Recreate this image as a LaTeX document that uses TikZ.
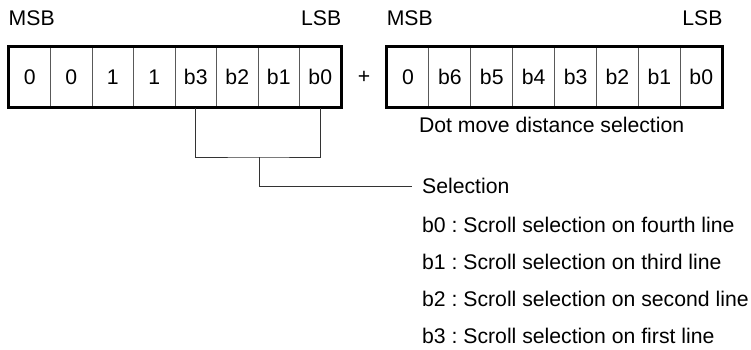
\documentclass[tikz,border=0pt]{standalone}
\usepackage{fontspec}
\setmainfont{Liberation Sans}
\usetikzlibrary{positioning,calc}
\frenchspacing

\begin{document}
\begin{tikzpicture}[x=1pt,y=-1pt,node distance=41.5pt,
  font=\fontsize{21.2}{25}\selectfont,
  cell/.style={draw=black!65,line width=0.9pt,minimum width=41.5pt,minimum height=60.3pt,inner sep=0pt},
  frame/.style={draw=black,line width=2.4pt},
  wire/.style={draw=black!80,line width=1pt},
  lbl/.style={inner sep=0pt},
  note/.style={inner xsep=10pt}]
\useasboundingbox (0,0) rectangle (751,349);

% first register
\node[cell] (r1c1) at (29.75,77) {0};
\node[cell] (r1c2) [right of=r1c1] {0};
\node[cell] (r1c3) [right of=r1c2] {1};
\node[cell] (r1c4) [right of=r1c3] {1};
\node[cell] (r1c5) [right of=r1c4] {b3};
\node[cell] (r1c6) [right of=r1c5] {b2};
\node[cell] (r1c7) [right of=r1c6] {b1};
\node[cell] (r1c8) [right of=r1c7] {b0};
\draw[frame] (r1c1.north west) rectangle (r1c8.south east);

\node[lbl,above=21pt of r1c1.north west,anchor=base west] (msb1) {MSB};
\node[lbl,above=21pt of r1c8.north east,anchor=base east] (lsb1) {LSB};

% second register
\begin{scope}[node distance=41.9pt,cell/.append style={minimum width=41.9pt}]
\node[cell] (r2c1) at (407.95,77) {0};
\node[cell] (r2c2) [right of=r2c1] {b6};
\node[cell] (r2c3) [right of=r2c2] {b5};
\node[cell] (r2c4) [right of=r2c3] {b4};
\node[cell] (r2c5) [right of=r2c4] {b3};
\node[cell] (r2c6) [right of=r2c5] {b2};
\node[cell] (r2c7) [right of=r2c6] {b1};
\node[cell] (r2c8) [right of=r2c7] {b0};
\end{scope}
\draw[frame] (r2c1.north west) rectangle (r2c8.south east);

\node[lbl,above=21pt of r2c1.north west,anchor=base west] (msb2) {MSB};
\node[lbl,above=21pt of r2c8.north east,anchor=base east] (lsb2) {LSB};

\node (plus) at ($(r1c8.east)!0.5!(r2c1.west)$) {+};
\node[lbl,anchor=base] (dist) at ($(r2c1.south west)!0.5!(r2c8.south east)+(-3,25)$) {Dot move distance selection};

% selection bracket
\coordinate (bmid) at (259,157);
\node[note,anchor=west] (sel) at (412,186) {Selection};
\node[note,below=39pt of sel.base west,anchor=base west] (s0) {b0 : Scroll selection on fourth line};
\node[note,below=37pt of s0.base west,anchor=base west] (s1) {b1 : Scroll selection on third line};
\node[note,below=37pt of s1.base west,anchor=base west] (s2) {b2 : Scroll selection on second line};
\node[note,below=37pt of s2.base west,anchor=base west] (s3) {b3 : Scroll selection on first line};

\draw[wire] (r1c5.south) |- (bmid) -| (r1c8.south);
\draw[wire] (bmid) |- (sel);
\end{tikzpicture}
\end{document}
